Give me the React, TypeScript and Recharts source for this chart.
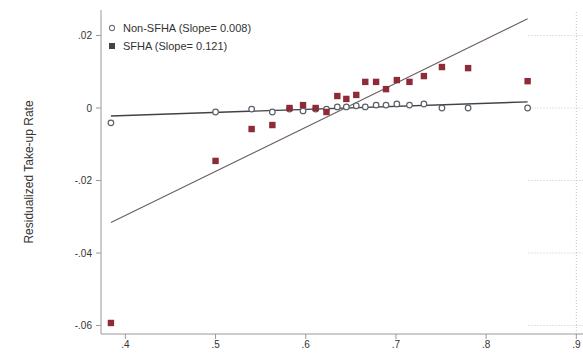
import React from 'react';
import {
  ComposedChart, Scatter, Line, XAxis, YAxis, ReferenceLine
} from 'recharts';

// binned values (x = share, y = residualized take-up)
const BIN_X = [0.384, 0.5, 0.54, 0.563, 0.582, 0.597, 0.611, 0.623, 0.635, 0.645, 0.656, 0.666, 0.678, 0.689, 0.701, 0.715, 0.731, 0.751, 0.78, 0.846];
const NON_SFHA_Y = [-0.0041, -0.0011, -0.0003, -0.0011, -0.0003, -0.0008, -0.0003, -0.0003, 0.0003, 0.0003, 0.0006, 0.0003, 0.0008, 0.0008, 0.0011, 0.0008, 0.0011, 0.0, 0.0, 0.0];
const SFHA_Y = [-0.0593, -0.0146, -0.0058, -0.0047, 0.0, 0.0008, 0.0, -0.0011, 0.0033, 0.0025, 0.0036, 0.0072, 0.0072, 0.0052, 0.0077, 0.0072, 0.0088, 0.0113, 0.011, 0.0074];

// fitted lines, read at both ends
const FIT_X = [0.384, 0.846];
const NON_SFHA_FIT = [-0.0022, 0.0017];
const SFHA_FIT = [-0.0316, 0.0246];

const X_TICKS = [0.4, 0.5, 0.6, 0.7, 0.8, 0.9];
const Y_TICKS = [0.02, 0, -0.02, -0.04, -0.06];

const X_DOMAIN = [0.373, 0.9074];
const Y_DOMAIN = [-0.06234, 0.02703];

const FONT = '"Liberation Sans", Arial, Helvetica, sans-serif';
const SFHA_COLOR = '#8e2b36';
const NON_COLOR = '#5b6168';

const nonData = BIN_X.map((x, i) => ({ x, y: NON_SFHA_Y[i] }));
const sfhaData = BIN_X.map((x, i) => ({ x, y: SFHA_Y[i] }));
const nonFit = FIT_X.map((x, i) => ({ x, y: NON_SFHA_FIT[i] }));
const sfhaFit = FIT_X.map((x, i) => ({ x, y: SFHA_FIT[i] }));

const fmtX = (v: number) => v.toFixed(1).replace(/^0/, '');
const fmtY = (v: number) => {
  if (Math.abs(v) < 1e-9) return '0';
  return (v < 0 ? '-' : '') + Math.abs(v).toFixed(2).replace(/^0/, '');
};

const Circle = (props: any) => {
  const { cx, cy } = props;
  return <circle cx={cx} cy={cy} r={2.8} fill="#fff" stroke={NON_COLOR} strokeWidth={1.2} />;
};

const Square = (props: any) => {
  const { cx, cy } = props;
  return <rect x={cx - 3.2} y={cy - 3.2} width={6.4} height={6.4} fill={SFHA_COLOR} />;
};

export default function App() {
  return (
    <div style={{ position: 'absolute', left: 0, top: 0, width: 583, height: 353, background: '#fff', fontFamily: FONT }}>
      <ComposedChart width={583} height={353} margin={{ top: 10, right: 0, bottom: 0, left: 0 }}>
        {/* faint dotted grid, only visible outside the pasted plot */}
        {Y_TICKS.map((t) => (
          <ReferenceLine
            key={t}
            segment={[{ x: 0.847, y: t }, { x: X_DOMAIN[1], y: t }]}
            stroke="#c4c4c4"
            strokeDasharray="1 2"
          />
        ))}
        <ReferenceLine x={0.9} stroke="#c4c4c4" strokeDasharray="1 2" />

        <XAxis
          type="number"
          dataKey="x"
          domain={X_DOMAIN}
          ticks={X_TICKS}
          tickFormatter={fmtX}
          allowDataOverflow
          height={19}
          tickSize={5}
          tickMargin={2}
          axisLine={{ stroke: '#9a9a9a' }}
          tickLine={{ stroke: '#9a9a9a' }}
          tick={{ fontSize: 10, fill: '#333', fontFamily: FONT }}
        />
        <YAxis
          type="number"
          dataKey="y"
          domain={Y_DOMAIN}
          ticks={Y_TICKS}
          tickFormatter={fmtY}
          allowDataOverflow
          width={101}
          tickSize={5}
          tickMargin={4}
          axisLine={{ stroke: '#9a9a9a' }}
          tickLine={{ stroke: '#9a9a9a' }}
          tick={{ fontSize: 10, fill: '#333', fontFamily: FONT }}
          label={{
            content: () => (
              <text
                x={30}
                y={172}
                transform="rotate(-90, 30, 172)"
                textAnchor="middle"
                dominantBaseline="middle"
                fontSize={12}
                fill="#333"
                fontFamily={FONT}
              >
                Residualized Take-up Rate
              </text>
            ),
          }}
        />

        <Line data={nonFit} dataKey="y" type="linear" stroke="#3f4347" strokeWidth={1.4} dot={false} isAnimationActive={false} />
        <Line data={sfhaFit} dataKey="y" type="linear" stroke="#6b5e60" strokeWidth={1.1} dot={false} isAnimationActive={false} />

        <Scatter data={nonData} dataKey="y" shape={<Circle />} isAnimationActive={false} />
        <Scatter data={sfhaData} dataKey="y" shape={<Square />} isAnimationActive={false} />
      </ComposedChart>

      <div style={{ position: 'absolute', left: 108, top: 19, fontSize: 11, color: '#333', lineHeight: '18px' }}>
        <div style={{ display: 'flex', alignItems: 'center' }}>
          <svg width={8} height={8} style={{ marginRight: 7 }}>
            <circle cx={4} cy={4} r={2.6} fill="#fff" stroke="#777" strokeWidth={1.1} />
          </svg>
          Non-SFHA (Slope= 0.008)
        </div>
        <div style={{ display: 'flex', alignItems: 'center' }}>
          <svg width={8} height={8} style={{ marginRight: 7 }}>
            <rect x={1} y={1} width={6} height={6} fill="#444" />
          </svg>
          SFHA (Slope= 0.121)
        </div>
      </div>
    </div>
  );
}
